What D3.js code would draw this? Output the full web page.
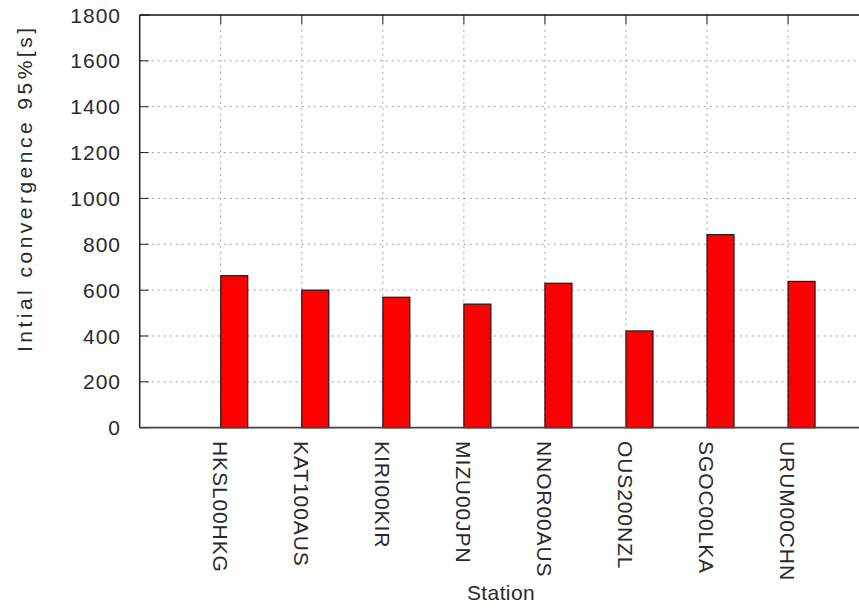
<!DOCTYPE html>
<html>
<head>
<meta charset="utf-8">
<script src="https://cdn.jsdelivr.net/npm/d3@7"></script>
<style>
  html, body { margin: 0; padding: 0; background: #fff; }
  svg { display: block; }
  text { font-family: "Liberation Sans", Arial, sans-serif; fill: #2a2a2a; }
</style>
</head>
<body>
<script>
const stations = ["HKSL00HKG", "KAT100AUS", "KIRI00KIR", "MIZU00JPN", "NNOR00AUS", "OUS200NZL", "SGOC00LKA", "URUM00CHN"];
const convergence = [663, 600, 569, 539, 630, 422, 842, 638];
const yTicks = [0, 200, 400, 600, 800, 1000, 1200, 1400, 1600, 1800];
const yTitle = "Intial convergence 95%[s]";
const xTitle = "Station";

(function () {
const W = 859, H = 609;
const svg = d3.select("body").append("svg").attr("width", W).attr("height", H);

const x = d3.scaleLinear().domain([0, 9]).range([139.7, 869.1]);
const y = d3.scaleLinear().domain([0, 1800]).range([427.7, 15]);
const barW = 1 / 3;
const pLeft = x(0), pRight = x(9), pTop = y(1800), pBottom = y(0);

const g = svg.append("g");

// grid
const gridY = yTicks.filter(v => v > 0 && v < 1800);
g.selectAll(".gy").data(gridY).enter().append("line")
  .attr("x1", pLeft).attr("x2", pRight)
  .attr("y1", d => y(d)).attr("y2", d => y(d))
  .attr("stroke", "#a0a0a0").attr("stroke-width", 1).attr("stroke-dasharray", "2,4");
g.selectAll(".gx").data(stations).enter().append("line")
  .attr("x1", (d, i) => x(i + 1)).attr("x2", (d, i) => x(i + 1))
  .attr("y1", pBottom).attr("y2", pTop)
  .attr("stroke", "#a0a0a0").attr("stroke-width", 1).attr("stroke-dasharray", "2,4");

// bars
g.selectAll(".bar").data(convergence).enter().append("rect")
  .attr("x", (d, i) => x(i + 1))
  .attr("width", (d, i) => x(i + 1 + barW) - x(i + 1))
  .attr("y", d => y(d))
  .attr("height", d => pBottom - y(d))
  .attr("fill", "#ff0000").attr("stroke", "#1a1a1a").attr("stroke-width", 1.2);

// ticks (inward)
g.selectAll(".ty").data(yTicks).enter().append("line")
  .attr("x1", pLeft).attr("x2", pLeft + 9)
  .attr("y1", d => y(d)).attr("y2", d => y(d))
  .attr("stroke", "#222").attr("stroke-width", 1);
g.selectAll(".tx").data(stations).enter().append("line")
  .attr("x1", (d, i) => x(i + 1)).attr("x2", (d, i) => x(i + 1))
  .attr("y1", pTop).attr("y2", pTop + 9)
  .attr("stroke", "#222").attr("stroke-width", 1);

// border
g.append("line").attr("x1", pLeft).attr("x2", pRight).attr("y1", pTop).attr("y2", pTop)
  .attr("stroke", "#111").attr("stroke-width", 1.3);
g.append("line").attr("x1", pLeft).attr("x2", pRight).attr("y1", pBottom).attr("y2", pBottom)
  .attr("stroke", "#444").attr("stroke-width", 1.8);
g.append("line").attr("x1", pLeft).attr("x2", pLeft).attr("y1", pTop).attr("y2", pBottom)
  .attr("stroke", "#222").attr("stroke-width", 1.5);
g.append("line").attr("x1", pRight).attr("x2", pRight).attr("y1", pTop).attr("y2", pBottom)
  .attr("stroke", "#222").attr("stroke-width", 1.5);

// y tick labels
g.selectAll(".ly").data(yTicks).enter().append("text")
  .attr("x", 121).attr("y", d => y(d)).attr("dy", "0.36em")
  .attr("text-anchor", "end").attr("font-size", 21)
  .attr("letter-spacing", 1)
  .text(d => d);

// x tick labels rotated
g.selectAll(".lx").data(stations).enter().append("text")
  .attr("transform", (d, i) => `translate(${x(i + 1)},441) rotate(90)`)
  .attr("dy", "0.36em")
  .attr("text-anchor", "start").attr("font-size", 21)
  .attr("letter-spacing", 0.9)
  .text(d => d);

// axis titles
svg.append("text")
  .attr("transform", `translate(24,190) rotate(-90)`)
  .attr("dy", "0.36em")
  .attr("text-anchor", "middle").attr("font-size", 21)
  .attr("textLength", 324).attr("lengthAdjust", "spacing")
  .text(yTitle);
svg.append("text")
  .attr("x", 501).attr("y", 600)
  .attr("text-anchor", "middle").attr("font-size", 21)
  .attr("letter-spacing", 0.4)
  .text(xTitle);
})();
</script>
</body>
</html>
